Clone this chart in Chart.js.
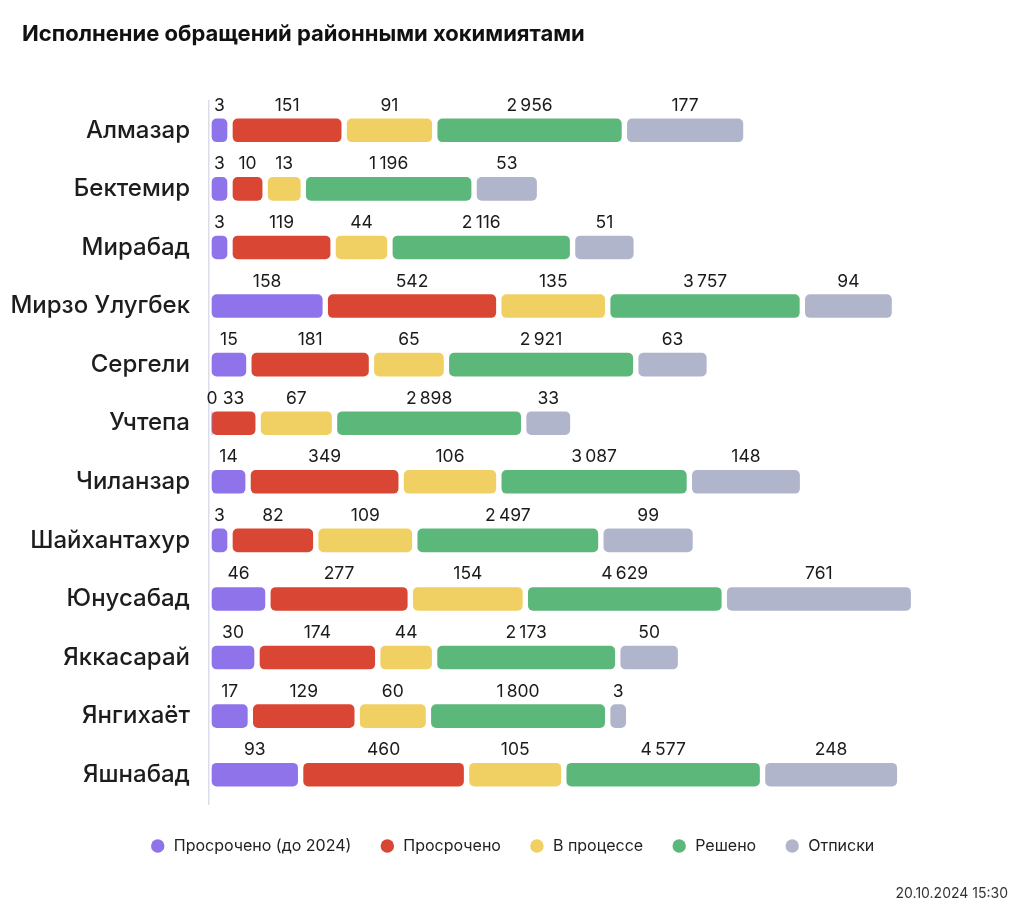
<!DOCTYPE html>
<html lang="ru">
<head>
<meta charset="UTF-8">
<title>Исполнение обращений районными хокимиятами</title>
<script src="https://cdn.jsdelivr.net/npm/chart.js"></script>
<style>
  html, body { margin: 0; padding: 0; background: #fff; }
  .wrap { position: relative; width: 1024px; height: 912px; }
  .wrap h1 {
    position: absolute; left: 22px; top: 20px; margin: 0;
    font: bold 22px/26px Inter, sans-serif; color: #111;
  }
  .stamp {
    position: absolute; right: 16px; top: 884px;
    font: 14px/18px Inter, sans-serif; color: #333;
  }
</style>
</head>
<body>
<div class="wrap">
  <h1>Исполнение обращений районными хокимиятами</h1>
  <canvas id="chart" width="1024" height="912"></canvas>
  <div class="stamp">20.10.2024 15:30</div>
</div>
<script>
const districts = ['Алмазар', 'Бектемир', 'Мирабад', 'Мирзо Улугбек', 'Сергели', 'Учтепа',
  'Чиланзар', 'Шайхантахур', 'Юнусабад', 'Яккасарай', 'Янгихаёт', 'Яшнабад'];

const overdueOld = [3, 3, 3, 158, 15, 0, 14, 3, 46, 30, 17, 93];
const overdue    = [151, 10, 119, 542, 181, 33, 349, 82, 277, 174, 129, 460];
const inProgress = [91, 13, 44, 135, 65, 67, 106, 109, 154, 44, 60, 105];
const solved     = [2956, 1196, 2116, 3757, 2921, 2898, 3087, 2497, 4629, 2173, 1800, 4577];
const replies    = [177, 53, 51, 94, 63, 33, 148, 99, 761, 50, 3, 248];

const seriesNames  = ['Просрочено (до 2024)', 'Просрочено', 'В процессе', 'Решено', 'Отписки'];
const seriesValues = [overdueOld, overdue, inProgress, solved, replies];
const seriesColors = ['#8f73ea', '#d94633', '#f0cf63', '#5cb77a', '#b1b5cc'];

// the original doesn't draw lengths linearly: big numbers are squeezed (roughly log),
// and the "Решено" column is squeezed even harder
function barLen(v, s) {
  if (v <= 0) return 0;
  if (s === 3) return 48 * Math.log10(v) + 17;
  return Math.max(15 + 27 * Math.log10(v / 3), 107 * Math.log10(v) - 125);
}

const GAP = 6;
const ranges = seriesValues.map(() => []);
districts.forEach((d, i) => {
  let x = 3;
  seriesValues.forEach((vals, s) => {
    const len = barLen(vals[i], s);
    ranges[s].push([x, x + len]);
    if (len > 0) x += len + GAP;
  });
});

function fmt(v) {
  return String(v).replace(/\B(?=(\d{3})+(?!\d))/g, '\u2009');
}

const valueLabels = {
  id: 'valueLabels',
  afterDatasetsDraw(chart) {
    const ctx = chart.ctx;
    ctx.save();
    ctx.font = '17.5px Inter';
    ctx.fillStyle = '#1b1b1b';
    ctx.textAlign = 'center';
    ctx.textBaseline = 'alphabetic';
    chart.data.datasets.forEach((ds, di) => {
      chart.getDatasetMeta(di).data.forEach((bar, i) => {
        const p = bar.getProps(['x', 'y', 'base', 'height'], true);
        ctx.fillText(fmt(ds.values[i]), (p.x + p.base) / 2, p.y - p.height / 2 - 8);
      });
    });
    ctx.restore();
  }
};

new Chart(document.getElementById('chart'), {
  type: 'bar',
  data: {
    labels: districts,
    datasets: seriesNames.map((name, s) => ({
      label: name,
      data: ranges[s],
      values: seriesValues[s],
      backgroundColor: seriesColors[s],
      borderRadius: 5,
      borderSkipped: false,
      barThickness: 23,
      grouped: false
    }))
  },
  options: {
    indexAxis: 'y',
    responsive: false,
    animation: false,
    devicePixelRatio: 1,
    layout: { padding: { left: 0, right: 0, top: 101, bottom: 48 } },
    scales: {
      x: {
        min: 0, max: 815,
        ticks: { display: false },
        grid: { display: false },
        border: { display: false },
        afterFit(s) { s.height = 6; }
      },
      y: {
        grid: { display: false, drawTicks: false },
        border: { display: true, color: '#dcdcea', width: 1.5 },
        ticks: { color: '#1d1d1d', font: { family: 'Inter', size: 24, weight: 500 }, padding: 19 },
        afterFit(s) { s.width = 209; }
      }
    },
    plugins: {
      legend: {
        position: 'bottom',
        labels: {
          usePointStyle: true,
          pointStyle: 'circle',
          boxWidth: 16,
          boxHeight: 9.5,
          padding: 28,
          color: '#222',
          font: { family: 'Inter', size: 16 }
        }
      },
      tooltip: { enabled: false }
    }
  },
  plugins: [valueLabels]
});
</script>
</body>
</html>
